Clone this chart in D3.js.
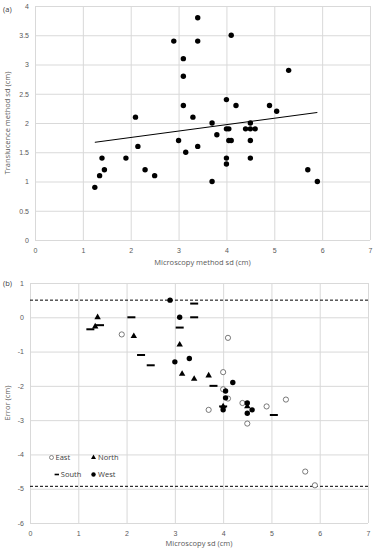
<!DOCTYPE html>
<html>
<head>
<meta charset="utf-8">
<script src="https://cdn.jsdelivr.net/npm/d3@7"></script>
<style>
  body { margin: 0; background: #fff; }
  svg { display: block; font-family: "Open Sans", "Liberation Sans", sans-serif; }
  .tick text { fill: #595959; font-size: 7px; }
  .grid line { stroke: #d9d9d9; stroke-width: 1; }
  .grid path { display: none; }
  .title { fill: #595959; font-size: 7.5px; }
</style>
</head>
<body>
<svg id="chart" width="374" height="550"></svg>
<script>
// Panel (a): translucence vs microscopy sd
const aX = [1.25, 1.35, 1.4, 1.45, 1.9, 2.1, 2.15, 2.3, 2.5, 2.9, 3.0, 3.1, 3.1, 3.1, 3.15, 3.3, 3.4, 3.4, 3.4,
  3.7, 3.7, 3.8, 4.0, 4.0, 4.05, 4.0, 4.0, 4.05, 4.1, 4.1, 4.2, 4.4, 4.5, 4.6, 4.5, 4.5, 4.5, 4.9, 5.05, 5.3, 5.7, 5.9];
const aY = [0.9, 1.1, 1.4, 1.2, 1.4, 2.1, 1.6, 1.2, 1.1, 3.4, 1.7, 3.1, 2.8, 2.3, 1.5, 2.1, 3.8, 3.4, 1.6,
  2.0, 1.0, 1.8, 2.4, 1.9, 1.9, 1.4, 1.3, 1.7, 1.7, 3.5, 2.3, 1.9, 1.9, 1.9, 2.0, 1.7, 1.4, 2.3, 2.2, 2.9, 1.2, 1.0];
const trendX = [1.25, 5.9];
const trendY = [1.67, 2.18];

// Panel (b): error vs microscopy sd, by direction
const eastX = [1.9, 4.1, 4.0, 4.0, 4.1, 3.7, 4.4, 4.9, 5.3, 4.5, 5.7, 5.9];
const eastY = [-0.5, -0.6, -1.6, -2.1, -2.37, -2.7, -2.5, -2.6, -2.4, -3.1, -4.5, -4.9];
const northX = [1.4, 1.35, 2.15, 3.1, 3.15, 3.4, 3.7, 4.0, 4.5];
const northY = [0, -0.27, -0.55, -0.8, -1.65, -1.8, -1.7, -2.6, -2.6];
const southX = [1.25, 1.45, 2.1, 2.3, 2.5, 3.1, 3.4, 3.4, 3.8, 4.0, 5.05];
const southY = [-0.35, -0.23, 0, -1.1, -1.4, -0.3, 0, 0.4, -2.0, -2.6, -2.85];
const westX = [2.9, 3.1, 3.0, 3.3, 4.2, 4.05, 4.05, 4.0, 4.5, 4.5, 4.6];
const westY = [0.5, 0, -1.3, -1.2, -1.9, -2.15, -2.35, -2.7, -2.5, -2.8, -2.7];
const limits = [0.5, -4.93];

const xTicks = [0, 1, 2, 3, 4, 5, 6, 7];
const aYTicks = [0, 0.5, 1, 1.5, 2, 2.5, 3, 3.5, 4];
const bYTicks = [1, 0, -1, -2, -3, -4, -5, -6];

const svg = d3.select("#chart");

// helper to draw grid + tick labels
function drawFrame(g, x, y, yTicks) {
  g.append("g").attr("class", "grid")
    .attr("transform", `translate(0,${y.range()[0]})`)
    .call(d3.axisBottom(x).tickValues(xTicks).tickSize(-(y.range()[0] - y.range()[1])).tickFormat(""));
  g.append("g").attr("class", "grid")
    .attr("transform", `translate(${x.range()[0]},0)`)
    .call(d3.axisLeft(y).tickValues(yTicks).tickSize(-(x.range()[1] - x.range()[0])).tickFormat(""));
  g.append("g")
    .attr("transform", `translate(0,${y.range()[0]})`)
    .call(d3.axisBottom(x).tickValues(xTicks).tickSize(0).tickPadding(8).tickFormat(d3.format("d")))
    .call(s => s.select(".domain").remove());
  g.append("g")
    .attr("transform", `translate(${x.range()[0]},0)`)
    .call(d3.axisLeft(y).tickValues(yTicks).tickSize(0).tickPadding(6).tickFormat(d => d))
    .call(s => s.select(".domain").remove());
}

// ---- panel (a)
const xa = d3.scaleLinear().domain([0, 7]).range([35, 370]);
const ya = d3.scaleLinear().domain([0, 4]).range([240, 6]);
const ga = svg.append("g");
drawFrame(ga, xa, ya, aYTicks);

ga.append("line")
  .attr("x1", xa(trendX[0])).attr("y1", ya(trendY[0]))
  .attr("x2", xa(trendX[1])).attr("y2", ya(trendY[1]))
  .attr("stroke", "#000").attr("stroke-width", 1);

ga.selectAll(".dot").data(aX).enter().append("circle")
  .attr("cx", d => xa(d)).attr("cy", (d, i) => ya(aY[i]))
  .attr("r", 2.7).attr("fill", "#000");

ga.append("text").attr("x", 3).attr("y", 12).attr("font-size", 7.5).attr("fill", "#404040").text("(a)");
ga.append("text").attr("class", "title").attr("text-anchor", "middle")
  .attr("x", xa(3.5)).attr("y", 265).text("Microscopy method sd (cm)");
ga.append("text").attr("class", "title").attr("text-anchor", "middle")
  .attr("transform", `translate(10,${ya(2)}) rotate(-90)`).text("Translucence method sd (cm)");

// ---- panel (b)
const xb = d3.scaleLinear().domain([0, 7]).range([30, 368]);
const yb = d3.scaleLinear().domain([-6, 1]).range([523, 283]);
const gb = svg.append("g");
drawFrame(gb, xb, yb, bYTicks);

gb.selectAll(".limit").data(limits).enter().append("line")
  .attr("x1", xb(0)).attr("x2", xb(7))
  .attr("y1", d => yb(d)).attr("y2", d => yb(d))
  .attr("stroke", "#000").attr("stroke-width", 1).attr("stroke-dasharray", "3,2");

const tri = d3.symbol().type(d3.symbolTriangle).size(18);
const triSmall = d3.symbol().type(d3.symbolTriangle).size(11);

function drawSeries(xs, ys, kind) {
  const sel = gb.selectAll(".s-" + kind).data(xs).enter();
  if (kind === "east") {
    sel.append("circle").attr("cx", d => xb(d)).attr("cy", (d, i) => yb(ys[i]))
      .attr("r", 2.6).attr("fill", "#fff").attr("stroke", "#595959").attr("stroke-width", 0.8);
  } else if (kind === "north") {
    sel.append("path").attr("d", tri)
      .attr("transform", (d, i) => `translate(${xb(d)},${yb(ys[i])})`).attr("fill", "#000");
  } else if (kind === "south") {
    sel.append("rect").attr("x", d => xb(d) - 4).attr("y", (d, i) => yb(ys[i]) - 1)
      .attr("width", 8).attr("height", 2).attr("fill", "#000");
  } else {
    sel.append("circle").attr("cx", d => xb(d)).attr("cy", (d, i) => yb(ys[i]))
      .attr("r", 2.7).attr("fill", "#000");
  }
}
drawSeries(eastX, eastY, "east");
drawSeries(northX, northY, "north");
drawSeries(southX, southY, "south");
drawSeries(westX, westY, "west");

// legend
const legend = [
  { name: "East", kind: "east", x: 51.5, y: 457.5, tx: 4 },
  { name: "North", kind: "north", x: 93.5, y: 457.5, tx: 4.5 },
  { name: "South", kind: "south", x: 56.8, y: 474.5, tx: 4 },
  { name: "West", kind: "west", x: 93.5, y: 474.5, tx: 4.5 }
];
legend.forEach(l => {
  const lg = gb.append("g").attr("transform", `translate(${l.x},${l.y})`);
  if (l.kind === "east") lg.append("circle").attr("r", 2).attr("fill", "#fff").attr("stroke", "#595959").attr("stroke-width", 0.7);
  if (l.kind === "north") lg.append("path").attr("d", triSmall).attr("fill", "#000");
  if (l.kind === "south") lg.append("rect").attr("x", -2.2).attr("y", -0.8).attr("width", 4.4).attr("height", 1.6).attr("fill", "#000");
  if (l.kind === "west") lg.append("circle").attr("r", 2.2).attr("fill", "#000");
  lg.append("text").attr("x", l.tx).attr("y", 2.6).attr("font-size", 7.5).attr("fill", "#404040").text(l.name);
});

gb.append("text").attr("x", 3).attr("y", 286).attr("font-size", 7.5).attr("fill", "#404040").text("(b)");
gb.append("text").attr("class", "title").attr("text-anchor", "middle")
  .attr("x", xb(3.5)).attr("y", 546).text("Microscopy sd (cm)");
gb.append("text").attr("class", "title").attr("text-anchor", "middle")
  .attr("transform", `translate(10,${yb(-2.5)}) rotate(-90)`).text("Error (cm)");
</script>
</body>
</html>
